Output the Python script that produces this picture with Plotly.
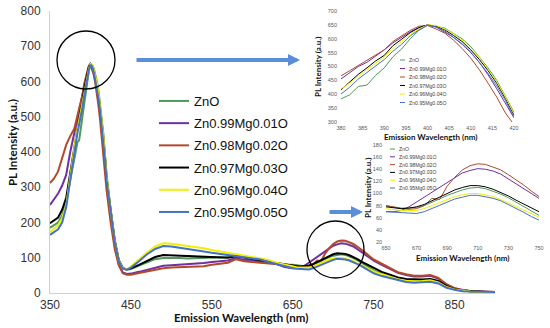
import plotly.graph_objects as go

# ---------------- data ----------------
wavelength = ([350, 355, 360, 365, 370, 375]
              + list(range(380, 421, 2))
              + [425, 430, 435, 440, 445]
              + list(range(450, 641, 10))
              + list(range(650, 751, 5))
              + list(range(760, 901, 10)))

series_names = ["ZnO", "Zn0.99Mg0.01O", "Zn0.98Mg0.02O",
                "Zn0.97Mg0.03O", "Zn0.96Mg0.04O", "Zn0.95Mg0.05O"]

zno = ([185, 192, 200, 220, 255, 320]
       + [383, 398, 428, 433, 468, 495, 535, 563, 600, 630, 648, 645, 638, 620, 600, 572, 535, 495, 450, 390, 335]
       + [235, 148, 92, 70, 66]
       + [68, 78, 88, 96, 99, 100, 99, 98, 99, 100, 100, 101, 102, 108, 102, 97, 93, 88, 84, 80]
       + [80, 78, 76, 76, 77, 80, 85, 91, 97, 102, 106, 109, 110, 108, 104, 99, 93, 86, 79, 72, 64]
       + [55, 48, 40, 36, 34, 35, 37, 31, 18, 10, 6, 4, 3, 3, 3])

zn099 = ([250, 265, 282, 305, 335, 400]
         + [455, 478, 500, 515, 537, 560, 585, 605, 625, 640, 650, 642, 625, 605, 580, 550, 515, 470, 420, 365, 315]
         + [215, 135, 82, 58, 54]
         + [55, 60, 66, 72, 77, 79, 80, 81, 83, 85, 88, 90, 92, 99, 94, 92, 90, 86, 82, 74]
         + [70, 70, 72, 78, 86, 94, 102, 110, 118, 126, 134, 138, 141, 140, 137, 132, 124, 117, 108, 100, 92]
         + [80, 68, 57, 51, 47, 47, 49, 41, 24, 13, 8, 5, 4, 3, 3])

zn098 = ([312, 325, 345, 385, 420, 445]
         + [466, 485, 502, 522, 540, 560, 590, 610, 630, 645, 648, 635, 620, 595, 565, 530, 488, 440, 390, 333, 290]
         + [200, 125, 78, 56, 52]
         + [52, 57, 62, 66, 70, 72, 73, 74, 75, 76, 80, 83, 86, 96, 90, 88, 86, 84, 82, 81]
         + [80, 77, 75, 74, 75, 80, 92, 90, 112, 127, 139, 146, 149, 148, 144, 139, 131, 123, 114, 104, 95]
         + [83, 71, 59, 53, 49, 49, 51, 43, 25, 14, 8, 5, 4, 3, 3])

zn097 = ([198, 205, 214, 236, 270, 340]
         + [416, 445, 472, 495, 520, 540, 575, 598, 622, 640, 650, 645, 632, 612, 590, 560, 525, 485, 440, 385, 325]
         + [235, 150, 94, 71, 67]
         + [70, 80, 92, 102, 108, 107, 105, 104, 103, 102, 102, 101, 100, 104, 100, 96, 92, 88, 84, 80]
         + [78, 76, 75, 76, 78, 82, 88, 94, 100, 106, 110, 113, 113, 111, 107, 102, 96, 89, 83, 76, 70]
         + [60, 52, 44, 40, 38, 38, 40, 34, 20, 11, 7, 5, 4, 3, 3])

zn096 = ([173, 182, 192, 212, 248, 330]
         + [419, 440, 465, 490, 512, 535, 565, 590, 615, 635, 650, 648, 635, 618, 595, 568, 532, 490, 445, 390, 330]
         + [232, 148, 92, 70, 67]
         + [75, 95, 115, 132, 141, 140, 137, 134, 130, 127, 122, 118, 114, 110, 106, 102, 98, 94, 86, 80]
         + [75, 73, 72, 72, 72, 75, 80, 86, 91, 95, 98, 100, 100, 98, 95, 90, 84, 78, 72, 66, 61]
         + [53, 46, 39, 35, 33, 34, 36, 30, 17, 10, 6, 4, 3, 3, 3])

zn095 = ([165, 172, 181, 200, 243, 320]
         + [401, 425, 455, 478, 500, 525, 555, 580, 610, 632, 648, 643, 628, 605, 582, 552, 515, 475, 430, 378, 318]
         + [228, 145, 90, 69, 66]
         + [72, 90, 110, 125, 133, 132, 129, 126, 122, 118, 114, 111, 108, 106, 103, 99, 95, 88, 82, 75]
         + [70, 69, 68, 68, 67, 70, 75, 81, 86, 91, 94, 97, 97, 95, 92, 88, 82, 76, 69, 62, 56]
         + [48, 42, 35, 31, 29, 30, 32, 27, 15, 9, 5, 4, 3, 3, 3])

series_values = [zno, zn099, zn098, zn097, zn096, zn095]
colors = ["#4d9a5a", "#7030a0", "#b04a2a", "#000000", "#f0f000", "#4472c4"]

main_xticks = [350, 450, 550, 650, 750, 850]
main_yticks = [0, 100, 200, 300, 400, 500, 600, 700, 800]
inset1_range = [380, 420]
inset2_range = [650, 750]

# ---------------- geometry helpers (pixel -> paper) ----------------
L, R, T, B = 50, 10, 11, 35
W, H = 550, 328
AW, AH = W - L - R, H - T - B


def px(x):
    return (x - L) / AW


def py(y):
    return (H - B - y) / AH


fig = go.Figure()

for name, vals, col in zip(series_names, series_values, colors):
    fig.add_trace(go.Scatter(x=wavelength, y=vals, name=name, mode="lines",
                             line=dict(color=col, width=2),
                             legendgroup=name, xaxis="x", yaxis="y"))
for name, vals, col in zip(series_names, series_values, colors):
    xs = [w for w in wavelength if inset1_range[0] <= w <= inset1_range[1]]
    ys = [v for w, v in zip(wavelength, vals) if inset1_range[0] <= w <= inset1_range[1]]
    fig.add_trace(go.Scatter(x=xs, y=ys, mode="lines", showlegend=False,
                             line=dict(color=col, width=1), xaxis="x2", yaxis="y2"))
for name, vals, col in zip(series_names, series_values, colors):
    xs = [w for w in wavelength if inset2_range[0] <= w <= inset2_range[1]]
    ys = [v for w, v in zip(wavelength, vals) if inset2_range[0] <= w <= inset2_range[1]]
    fig.add_trace(go.Scatter(x=xs, y=ys, mode="lines", showlegend=False,
                             line=dict(color=col, width=1), xaxis="x3", yaxis="y3"))

tickfont_main = dict(family="Liberation Sans, Arial", size=12, color="#333333")
tickfont_small = dict(family="Liberation Sans, Arial", size=5.5, color="#595959")

common = dict(showgrid=False, zeroline=False, ticks="", automargin=False)

fig.update_layout(
    template="none",
    width=W, height=H,
    margin=dict(l=L, r=R, t=T, b=B, autoexpand=False),
    paper_bgcolor="white", plot_bgcolor="white",
    showlegend=True,
    legend=dict(x=px(154), y=py(86), xanchor="left", yanchor="top",
                font=dict(family="Liberation Sans, Arial", size=13, color="#111111"),
                bgcolor="rgba(0,0,0,0)", tracegroupgap=2.3, traceorder="grouped"),
    xaxis=dict(domain=[0, px(495)], range=[350, 900], tickvals=main_xticks,
               showline=True, linecolor="#d0d0d0", linewidth=1,
               ticklabelstandoff=1, tickfont=tickfont_main, anchor="y", **common),
    yaxis=dict(domain=[0, 1], range=[0, 800], tickvals=main_yticks,
               showline=True, linecolor="#d0d0d0", linewidth=1,
               ticklabelstandoff=6, tickfont=tickfont_main, anchor="x", **common),
    xaxis2=dict(domain=[px(341), px(514)], range=inset1_range, tick0=380, dtick=5, showline=False,
                ticklabelstandoff=1, tickfont=tickfont_small, anchor="y2", **common),
    yaxis2=dict(domain=[py(122), py(11)], range=[300, 700], tick0=300, dtick=50, showline=False,
                ticklabelstandoff=3, tickfont=tickfont_small, anchor="x2", **common),
    xaxis3=dict(domain=[px(386), px(539)], range=inset2_range, tick0=650, dtick=20, showline=False,
                ticklabelstandoff=1, tickfont=tickfont_small, anchor="y3", **common),
    yaxis3=dict(domain=[py(242), py(145)], range=[20, 180], tick0=20, dtick=20, showline=False,
                ticklabelstandoff=3, tickfont=tickfont_small, anchor="x3", **common),
)

title_font = "Lato, Liberation Sans, Arial"


def label(text, x, y, size, angle=0):
    return dict(text=text, x=px(x), y=py(y), xref="paper", yref="paper",
                xanchor="center", yanchor="middle", showarrow=False, textangle=angle,
                font=dict(family=title_font, size=size, color="#111111"))


annotations = [
    label("<b>Emission Wavelength (nm)</b>", 241, 317, 11.5),
    label("<b>PL Intensity (a.u.)</b>", 12, 143, 11.5, -90),
    label("<b>PL Intensity (a.u.)</b>", 318, 67, 8, -90),
    label("<b>Emission Wavelength (nm)</b>", 430, 136.5, 8),
    label("<b>PL Intensity (a.u.)</b>", 368, 188, 8, -90),
    label("<b>Emission Wavelength (nm)</b>", 462, 258, 8),
    # arrows
    dict(x=px(300), y=py(60), xref="paper", yref="paper", ax=-165, ay=0,
         showarrow=True, arrowhead=2, arrowsize=0.6, arrowwidth=4, arrowcolor="#5a8ed8", text=""),
    dict(x=px(363), y=py(212), xref="paper", yref="paper", ax=-35, ay=0,
         showarrow=True, arrowhead=2, arrowsize=0.6, arrowwidth=4, arrowcolor="#5a8ed8", text=""),
]

shapes = [
    dict(type="circle", xref="paper", yref="paper", x0=px(57), x1=px(115), y0=py(89), y1=py(31),
         line=dict(color="black", width=1.3)),
    dict(type="circle", xref="paper", yref="paper", x0=px(307), x1=px(364), y0=py(278), y1=py(221),
         line=dict(color="black", width=1.3)),
]

# small legends of the insets
for (lx, ly0, dy) in [(400, 60, 8.5), (390, 149, 7.8)]:
    for i, (name, col) in enumerate(zip(series_names, colors)):
        yy = ly0 + i * dy
        shapes.append(dict(type="line", xref="paper", yref="paper",
                           x0=px(lx), x1=px(lx + 5), y0=py(yy), y1=py(yy),
                           line=dict(color=col, width=1)))
        annotations.append(dict(text=name, x=px(lx + 6.5), y=py(yy), xref="paper", yref="paper",
                                xanchor="left", yanchor="middle", showarrow=False,
                                font=dict(family="Liberation Sans, Arial", size=5.2, color="#404040")))

fig.update_layout(annotations=annotations, shapes=shapes)

fig.write_html("out.html",
               config={"displayModeBar": False, "staticPlot": True},
               post_script="document.body.style.margin='0';document.body.style.padding='0';")
